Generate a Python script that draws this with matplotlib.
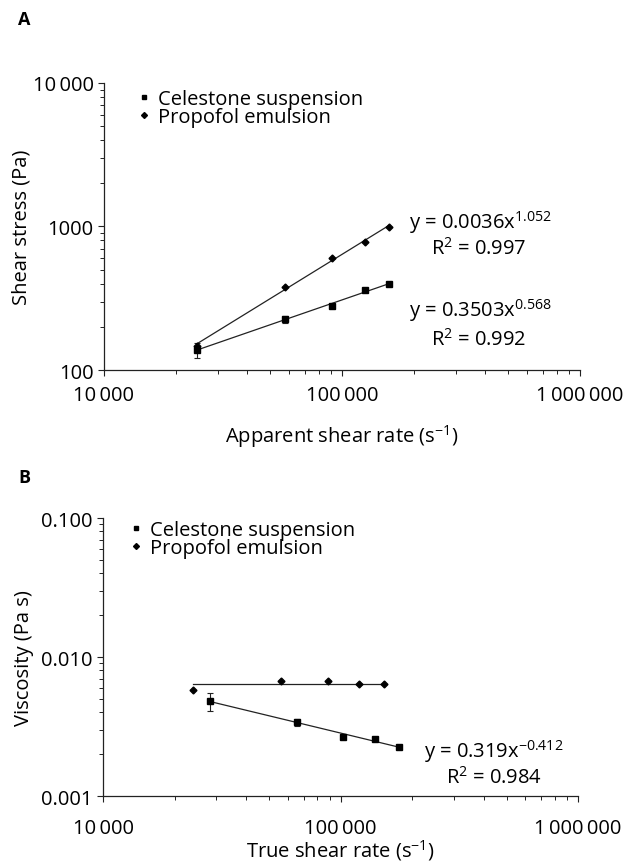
import numpy as np
import matplotlib
matplotlib.use("Agg")
import matplotlib.pyplot as plt
from matplotlib.lines import Line2D
from matplotlib.ticker import LogLocator, NullFormatter

plt.rcParams['font.family'] = ['Open Sans', 'DejaVu Sans']
plt.rcParams['font.size'] = 14.5
plt.rcParams['mathtext.fontset'] = 'custom'
plt.rcParams['mathtext.rm'] = 'Open Sans'
plt.rcParams['mathtext.it'] = 'Open Sans'
plt.rcParams['mathtext.default'] = 'regular'

INK = '#222222'
EQ_SIZE = 14.5

# A: apparent shear rate vs shear stress
rate_celestone = [24500, 57500, 90800, 125000, 157000]
stress_celestone = [138, 226, 279, 361, 398]
stress_celestone_err = [17, 13, 8, 9, 6]
rate_propofol = [24500, 57500, 90800, 125000, 157000]
stress_propofol = [147, 379, 603, 780, 990]

# B: true shear rate vs viscosity
true_rate_celestone = [28200, 65600, 102500, 139600, 176000]
visc_celestone = [0.00482, 0.00340, 0.00266, 0.00257, 0.00225]
visc_celestone_err = [0.0007, 0.0002, 0.0001, 0.0001, 0.00005]
true_rate_propofol = [23900, 56100, 88600, 119700, 152000]
visc_propofol = [0.00580, 0.00672, 0.00672, 0.00640, 0.00640]

x_ticks = [1e4, 1e5, 1e6]
x_tick_labels = ['10\u2009000', '100\u2009000', '1\u2009000\u2009000']
a_y_ticks = [100, 1000, 10000]
a_y_tick_labels = ['100', '1000', '10\u2009000']
b_y_ticks = [0.001, 0.01, 0.1]
b_y_tick_labels = ['0.001', '0.010', '0.100']

series_names = ['Celestone suspension', 'Propofol emulsion']


def power_fit(x, y):
    """Straight line through the points in log-log space, spanning the data."""
    lx, ly = np.log10(x), np.log10(y)
    coef = np.polyfit(lx, ly, 1)
    xs = np.array([min(x), max(x)])
    return xs, 10 ** np.polyval(coef, np.log10(xs))


def style_axes(ax, yticks, ylabels, ylim):
    ax.set_xscale('log')
    ax.set_yscale('log')
    ax.set_xlim(1e4, 1e6)
    ax.set_ylim(*ylim)
    ax.set_xticks(x_ticks, labels=x_tick_labels)
    ax.set_yticks(yticks, labels=ylabels)
    for axis in (ax.xaxis, ax.yaxis):
        axis.set_minor_locator(LogLocator(base=10, subs=np.arange(2, 10)))
        axis.set_minor_formatter(NullFormatter())
    for side in ('top', 'right'):
        ax.spines[side].set_visible(False)
    for side in ('left', 'bottom'):
        ax.spines[side].set_color(INK)
        ax.spines[side].set_linewidth(0.9)
    ax.tick_params(which='major', length=4, width=0.8, color=INK, direction='out')
    ax.tick_params(which='minor', length=3, width=0.7, color=INK, direction='out')


def add_legend(ax, anchor):
    handles = [
        Line2D([], [], linestyle='none', marker='s', markersize=3.5, color='black'),
        Line2D([], [], linestyle='none', marker='D', markersize=3, color='black'),
    ]
    ax.legend(handles, series_names, loc='upper left', bbox_to_anchor=anchor,
              frameon=False, handlelength=0.6, handletextpad=0.4,
              labelspacing=-0.08, borderpad=0, borderaxespad=0, fontsize=14.5)


fig = plt.figure(figsize=(6.3, 8.62), dpi=100)
ax_a = fig.add_axes([0.165, 0.5696, 0.7556, 0.3330])
ax_b = fig.add_axes([0.1635, 0.0754, 0.754, 0.3225])

# ---- panel A ----
style_axes(ax_a, a_y_ticks, a_y_tick_labels, (100, 10000))
for x, y in ((rate_celestone, stress_celestone), (rate_propofol, stress_propofol)):
    xs, ys = power_fit(x, y)
    ax_a.plot(xs, ys, color=INK, linewidth=0.9)
ax_a.errorbar(rate_celestone, stress_celestone, yerr=stress_celestone_err,
              fmt='s', markersize=4.5, color='black', ecolor=INK,
              elinewidth=0.8, capsize=2.5, capthick=0.8)
ax_a.plot(rate_propofol, stress_propofol, 'D', markersize=3.5, color='black')

ax_a.text(0.790, 0.495, 'y = 0.0036x$^{1.052}$', transform=ax_a.transAxes,
          ha='center', va='baseline', fontsize=EQ_SIZE)
ax_a.text(0.788, 0.405, 'R$^{2}$ = 0.997', transform=ax_a.transAxes,
          ha='center', va='baseline', fontsize=EQ_SIZE)
ax_a.text(0.790, 0.189, 'y = 0.3503x$^{0.568}$', transform=ax_a.transAxes,
          ha='center', va='baseline', fontsize=EQ_SIZE)
ax_a.text(0.788, 0.087, 'R$^{2}$ = 0.992', transform=ax_a.transAxes,
          ha='center', va='baseline', fontsize=EQ_SIZE)

ax_a.set_ylabel('Shear stress (Pa)')
ax_a.yaxis.set_label_coords(-0.152, 0.5)
ax_a.set_xlabel('Apparent shear rate (s$^{-1}$)')
ax_a.xaxis.set_label_coords(0.5, -0.18)
ax_a.tick_params(axis='x', which='major', pad=7)
add_legend(ax_a, (0.071, 0.979))

# ---- panel B ----
style_axes(ax_b, b_y_ticks, b_y_tick_labels, (0.001, 0.1))
xs, ys = power_fit(true_rate_celestone, visc_celestone)
ax_b.plot(xs, ys, color=INK, linewidth=0.9)
# propofol viscosity is flat: draw its mean level across the measured range
level = 10 ** np.mean(np.log10(visc_propofol))
ax_b.plot([min(true_rate_propofol), max(true_rate_propofol)], [level, level],
          color=INK, linewidth=0.9)
ax_b.errorbar(true_rate_celestone, visc_celestone, yerr=visc_celestone_err,
              fmt='s', markersize=4.5, color='black', ecolor=INK,
              elinewidth=0.8, capsize=2.5, capthick=0.8)
ax_b.plot(true_rate_propofol, visc_propofol, 'D', markersize=3.5, color='black')

ax_b.text(0.823, 0.141, 'y = 0.319x$^{-0.412}$', transform=ax_b.transAxes,
          ha='center', va='baseline', fontsize=EQ_SIZE)
ax_b.text(0.823, 0.048, 'R$^{2}$ = 0.984', transform=ax_b.transAxes,
          ha='center', va='baseline', fontsize=EQ_SIZE)

ax_b.set_ylabel('Viscosity (Pa s)')
ax_b.yaxis.set_label_coords(-0.146, 0.5)
ax_b.set_xlabel('True shear rate (s$^{-1}$)')
ax_b.xaxis.set_label_coords(0.5, -0.148)
ax_b.tick_params(axis='x', which='major', pad=12)
add_legend(ax_b, (0.057, 0.993))

fig.text(18 / 630, 1 - 20 / 862, 'A', fontsize=13, fontweight='bold', va='center')
fig.text(18 / 630, 1 - 478 / 862, 'B', fontsize=13, fontweight='bold', va='center')

fig.savefig('out.png', dpi=100)
